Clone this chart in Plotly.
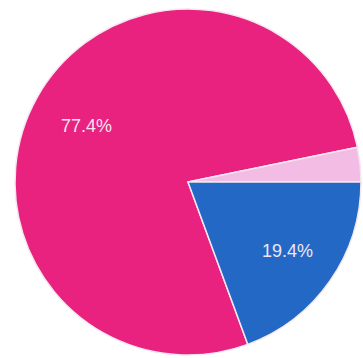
import math
import plotly.graph_objects as go

labels = ["A", "B", "C"]
values = [77.4, 3.2, 19.4]
text_labels = ["77.4%", "", "19.4%"]
label_radius = [0.67, 0.0, 0.70]
colors = ["#E9217F", "#F3BCE4", "#2468C6"]

W, H = 363, 358
cx, cy, r = 188, 182, 173
rotation = 159.8

dom_x = [(cx - r) / W, (cx + r) / W]
dom_y = [1 - (cy + r) / H, 1 - (cy - r) / H]

fig = go.Figure(go.Pie(
    labels=labels,
    values=values,
    textinfo="none",
    sort=False,
    direction="clockwise",
    rotation=rotation,
    marker=dict(colors=colors, line=dict(color="#F4E8F0", width=1.5)),
    showlegend=False,
    hoverinfo="none",
    domain=dict(x=dom_x, y=dom_y),
))

total = sum(values)
start = rotation
for v, t, f in zip(values, text_labels, label_radius):
    sweep = 360 * v / total
    mid = math.radians(start + sweep / 2)
    start += sweep
    if not t:
        continue
    px = cx + f * r * math.sin(mid)
    py = cy - f * r * math.cos(mid)
    fig.add_annotation(
        x=px / W, y=1 - py / H, xref="paper", yref="paper",
        xanchor="center", yanchor="middle",
        text=t, showarrow=False,
        font=dict(family="Liberation Sans, Arial", size=18, color="#F2E4F0"),
    )

fig.update_layout(
    width=W, height=H,
    margin=dict(l=0, r=0, t=0, b=0),
    paper_bgcolor="white",
    plot_bgcolor="white",
)

fig.write_html("out.html", config={"displayModeBar": False},
               post_script="document.body.style.margin='0';")
